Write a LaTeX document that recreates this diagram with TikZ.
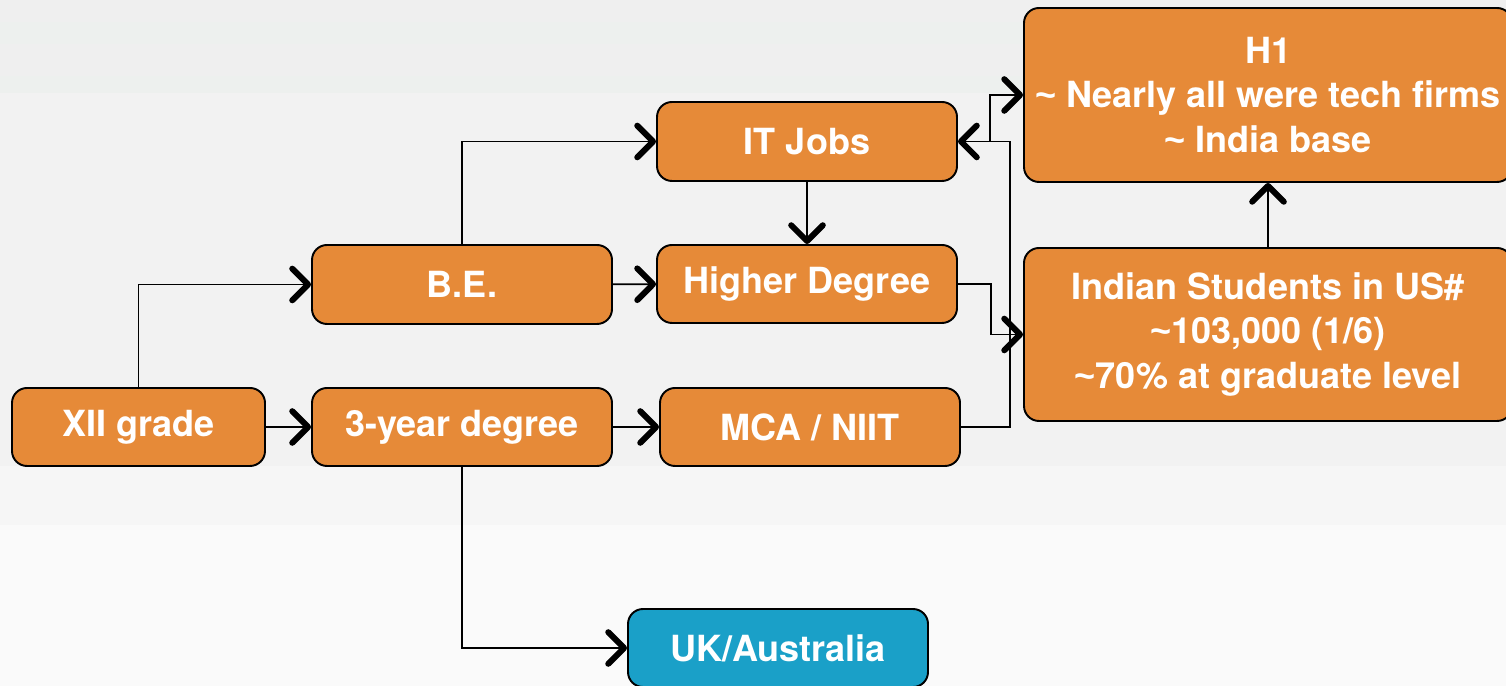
\documentclass[tikz,border=0pt]{standalone}
\usepackage{fontspec}
\setmainfont{TeX Gyre Heros}
\newfontfamily\tildefont{Liberation Sans}
\newcommand{\approxsign}{{\tildefont\bfseries\symbol{"7E}}}
\usetikzlibrary{positioning,arrows.meta}

\definecolor{boxorange}{HTML}{E68A38}
\definecolor{boxblue}{HTML}{1AA0C8}
\definecolor{bgtop}{HTML}{EFEFEF}
\definecolor{bgband}{HTML}{EDF0EE}
\definecolor{bgmid}{HTML}{F2F2F2}
\definecolor{bglow}{HTML}{F6F6F6}
\definecolor{bgfoot}{HTML}{FAFAFA}

\tikzset{
  stage/.style={draw, line width=1.1pt, rectangle, rounded corners=0.3cm, fill=boxorange,
    text=white, font=\fontsize{20.5}{25.3}\selectfont\bfseries, align=center,
    minimum width=6cm, minimum height=1.56cm, inner sep=2pt},
  flow/.style={line width=1.1pt, -{Straight Barb[length=9pt,width=18pt,line width=3.4pt,round]}}
}

\begin{document}
\begin{tikzpicture}
            % backdrop
            \fill[bgtop] (0,0) rectangle (30.12,13.72);
            \fill[bgband] (0,12.84) rectangle (30.12,13.28);
            \fill[bgband] (0,11.86) rectangle (30.12,12.20);
            \fill[bgmid] (0,3.22) rectangle (30.12,11.86);
            \fill[bglow] (0,3.22) rectangle (30.12,4.40);
            \fill[bgfoot] (0,0) rectangle (30.12,3.22);
            \useasboundingbox (0,0) rectangle (30.12,13.72);

            \node[stage, minimum width=5.06cm] (xii) at (2.77,5.18) {XII grade};
            \node[stage] (three) at (9.24,5.18) {3-year degree};
            \node[stage] (mca) at (16.20,5.18) {MCA / NIIT};
            \node[stage, minimum height=1.58cm] (be) at (9.24,8.03) {B.E.};
            \node[stage] (higher) at (16.14,8.04) {Higher Degree};
            \node[stage, minimum height=1.58cm] (itjobs) at (16.14,10.89) {IT Jobs};
            \node[stage, minimum width=9.76cm, minimum height=3.48cm] (h1) at (25.36,11.82)
                {H1\\\approxsign{} Nearly all were tech firms\\\approxsign{} India base};
            \node[stage, minimum width=9.76cm, minimum height=3.46cm] (students) at (25.36,7.03)
                {Indian Students in US\#\\\approxsign103,000 (1/6)\\\approxsign70\% at graduate level};
            \node[stage, fill=boxblue] (uk) at (15.56,0.76) {UK/Australia};

            \coordinate (fork) at (19.80,10.89);
            \coordinate (riser) at (20.20,10.89);

            \draw[flow] (xii.north) |- (be.west);
            \draw[flow] (xii) -- (three);
            \draw[flow] (three) -- (mca);
            \draw[flow] (be) -- (higher);
            \draw[flow] (be.north) |- (itjobs.west);
            \draw[flow] (itjobs) -- (higher);
            \draw[flow] (higher.east) -- ++(0.66,0) |- (students.west);
            \draw[flow] (mca.east) -| (riser) -- (itjobs.east);
            \draw[flow] (fork) |- (h1.west);
            \draw[flow] (students) -- (h1);
            \draw[flow] (three.south) |- (uk.west);
        \end{tikzpicture}
\end{document}
